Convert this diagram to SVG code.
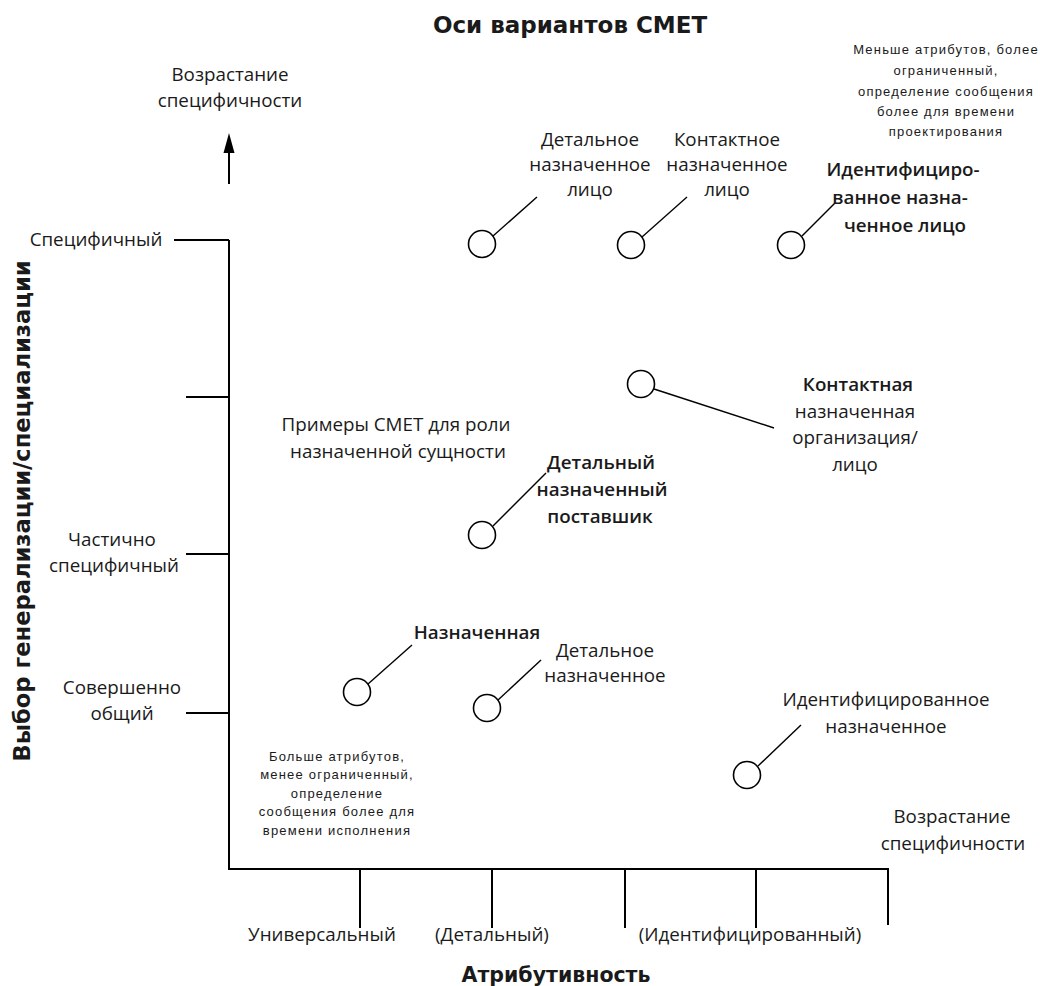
<svg xmlns="http://www.w3.org/2000/svg" width="1059" height="986" viewBox="0 0 1059 986">
<style>
text{font-family:"Open Sans","Liberation Sans",sans-serif;font-size:18.8px;fill:#1a1a1a;text-anchor:middle}
.sb{font-weight:600}
.sm{font-family:"Liberation Sans",Arial,sans-serif;font-size:13px;letter-spacing:1.2px}
.ttl{font-family:"DejaVu Sans",sans-serif;font-weight:bold;font-size:23px}
.yl{font-family:"DejaVu Sans",sans-serif;font-weight:bold;font-size:22.6px}
.at{font-family:"DejaVu Sans",sans-serif;font-weight:bold;font-size:20.5px}
.ax{stroke:#000;stroke-width:2;fill:none}
.n circle{fill:#fff;stroke:#000;stroke-width:1.6}
.c line{stroke:#000;stroke-width:1.4}
</style>
<rect width="1059" height="986" fill="#fff"/>
<text class="ttl" x="570" y="33">Оси вариантов СМЕТ</text>
<g id="axes">
<line class="ax" x1="229" y1="240" x2="229" y2="869"/>
<line class="ax" x1="228" y1="869" x2="889" y2="869"/>
<line class="ax" x1="174" y1="240" x2="229" y2="240"/>
<line class="ax" x1="186" y1="397" x2="229" y2="397"/>
<line class="ax" x1="186" y1="554" x2="229" y2="554"/>
<line class="ax" x1="186" y1="713" x2="229" y2="713"/>
<line class="ax" x1="360" y1="869" x2="360" y2="928"/>
<line class="ax" x1="492" y1="869" x2="492" y2="928"/>
<line class="ax" x1="625" y1="869" x2="625" y2="928"/>
<line class="ax" x1="756" y1="869" x2="756" y2="928"/>
<line class="ax" x1="888" y1="869" x2="888" y2="925"/>
<line class="ax" x1="229" y1="184" x2="229" y2="150"/>
<polygon points="229,133 223.5,153 234.5,153" fill="#000"/>
</g>
<g id="axis-labels">
<text x="230" y="81">Возрастание</text>
<text x="230" y="107">специфичности</text>
<text x="96" y="246">Специфичный</text>
<text x="112" y="546">Частично</text>
<text x="114" y="572">специфичный</text>
<text x="122" y="694">Совершенно</text>
<text x="122" y="720">общий</text>
<text x="322" y="941">Универсальный</text>
<text x="492" y="941">(Детальный)</text>
<text x="750" y="941">(Идентифицированный)</text>
<text class="at" x="556" y="982">Атрибутивность</text>
<text class="yl" transform="translate(30,511) rotate(-90)">Выбор генерализации/специализации</text>
<text x="952" y="823">Возрастание</text>
<text x="953" y="850">специфичности</text>
<text x="396" y="431">Примеры СМЕТ для роли</text>
<text x="398" y="458">назначенной сущности</text>
<text class="sm" x="946" y="54">Меньше атрибутов, более</text>
<text class="sm" x="946" y="75">ограниченный,</text>
<text class="sm" x="946" y="96">определение сообщения</text>
<text class="sm" x="946" y="116">более для времени</text>
<text class="sm" x="946" y="136">проектирования</text>
<text class="sm" x="337" y="761">Больше атрибутов,</text>
<text class="sm" x="337" y="779">менее ограниченный,</text>
<text class="sm" x="337" y="798">определение</text>
<text class="sm" x="337" y="816">сообщения более для</text>
<text class="sm" x="337" y="835">времени исполнения</text>
</g>
<g id="connectors" class="c">
<line x1="493" y1="236" x2="537" y2="197"/>
<line x1="642" y1="237" x2="687" y2="197"/>
<line x1="802" y1="236" x2="835" y2="203"/>
<line x1="654" y1="389" x2="774" y2="428"/>
<line x1="493" y1="526" x2="546" y2="473"/>
<line x1="368" y1="684" x2="412" y2="645"/>
<line x1="498" y1="700" x2="541" y2="660"/>
<line x1="758" y1="766" x2="801" y2="725"/>
</g>
<g id="n1" class="n"><circle cx="482" cy="244" r="13.5"/>
<text x="590" y="146">Детальное</text><text x="590" y="171">назначенное</text><text x="590" y="196">лицо</text></g>
<g id="n2" class="n"><circle cx="631" cy="245" r="13.5"/>
<text x="727" y="146">Контактное</text><text x="727" y="171">назначенное</text><text x="727" y="196">лицо</text></g>
<g id="n3" class="n"><circle cx="791" cy="245" r="13.5"/>
<text class="sb" x="903" y="176">Идентифициро-</text><text class="sb" x="900" y="204">ванное назна-</text><text class="sb" x="905" y="232">ченное лицо</text></g>
<g id="n4" class="n"><circle cx="641" cy="384" r="13.5"/>
<text class="sb" x="858" y="391">Контактная</text><text x="855" y="418">назначенная</text><text x="855" y="444">организация/</text><text x="855" y="471">лицо</text></g>
<g id="n5" class="n"><circle cx="482" cy="535" r="13.5"/>
<text class="sb" x="601" y="469">Детальный</text><text class="sb" x="602" y="496">назначенный</text><text class="sb" x="600" y="523">поставшик</text></g>
<g id="n6" class="n"><circle cx="357" cy="692" r="13.5"/>
<text class="sb" x="477" y="639">Назначенная</text></g>
<g id="n7" class="n"><circle cx="487" cy="708" r="13.5"/>
<text x="605" y="657">Детальное</text><text x="605" y="682">назначенное</text></g>
<g id="n8" class="n"><circle cx="747" cy="775" r="13.5"/>
<text x="886" y="706">Идентифицированное</text><text x="886" y="733">назначенное</text></g>
</svg>
